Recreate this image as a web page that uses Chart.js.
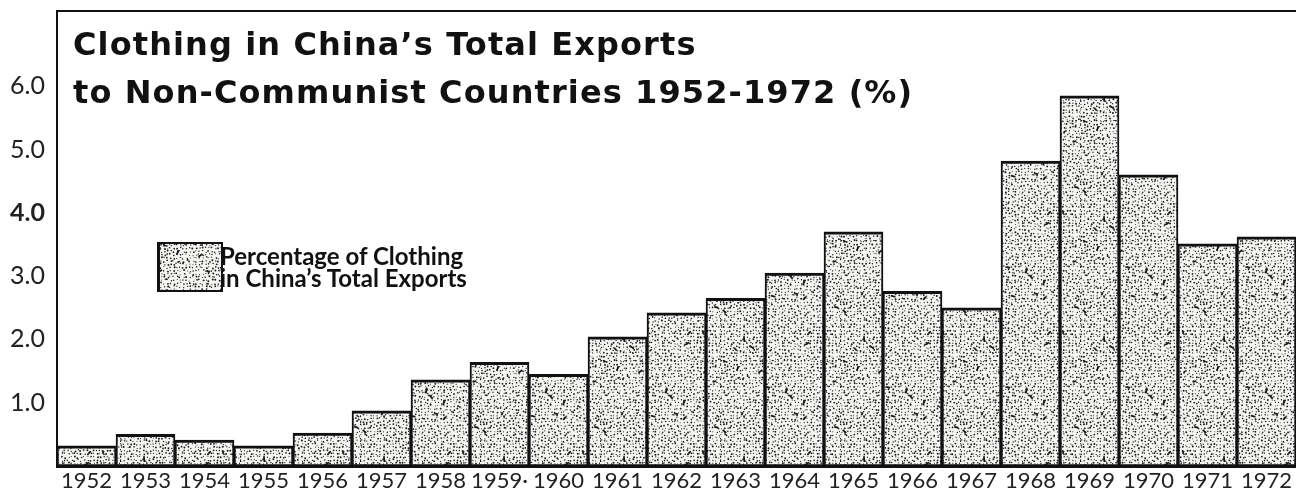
<!DOCTYPE html>
<html>
<head>
<meta charset="utf-8">
<script src="https://cdn.jsdelivr.net/npm/chart.js@4.4.1/dist/chart.umd.min.js"></script>
<style>
  html, body { margin: 0; padding: 0; background: #fff; }
  #wrap { position: relative; width: 1296px; height: 493px; overflow: hidden; }
  #c { position: absolute; left: 0; top: 0; }
  #title {
    position: absolute; left: 73px; top: 20px;
    font-family: "DejaVu Sans", Lato, sans-serif; font-weight: 700;
    font-size: 32px; line-height: 48px; color: #111; letter-spacing: 1.1px;
    white-space: nowrap;
  }
  #sw { position: absolute; left: 157px; top: 242px; border: 2px solid #111; border-left-width: 3px; box-sizing: border-box; display: block; }
  #legtxt {
    position: absolute; left: 220px; top: 245px;
    font-family: Lato, "Open Sans", sans-serif; font-weight: 700;
    font-size: 24px; line-height: 22px; color: #111; white-space: pre;
  }
</style>
</head>
<body>
<div id="wrap">
  <canvas id="c" width="1296" height="493"></canvas>
  <div id="title"></div>
  <canvas id="sw" width="61" height="46"></canvas>
  <div id="legtxt"></div>
</div>
<script>
// ---- data ----
const years = ["1952","1953","1954","1955","1956","1957","1958","1959","1960","1961","1962",
               "1963","1964","1965","1966","1967","1968","1969","1970","1971","1972"];
const xTickLabels = ["1952","1953","1954","1955","1956","1957","1958","1959\u00b7","1960","1961","1962",
                     "1963","1964","1965","1966","1967","1968","1969","1970","1971","1972"];
const clothingShare = [0.32, 0.50, 0.41, 0.32, 0.52, 0.87, 1.36, 1.64, 1.45, 2.04, 2.42,
                       2.65, 3.05, 3.70, 2.76, 2.50, 4.82, 5.85, 4.60, 3.51, 3.62];
const yTickValues = [1, 2, 3, 4, 5, 6];
const titleLines = ["Clothing in China\u2019s Total Exports", "to Non-Communist Countries 1952-1972 (%)"];
const seriesLabelLines = ["Percentage of Clothing", "in China\u2019s Total Exports"];

// ---- stipple texture (deterministic) ----
function makeStipple() {
  const s = 120;
  const cv = document.createElement('canvas');
  cv.width = s; cv.height = s;
  const g = cv.getContext('2d');
  g.fillStyle = '#f5f5f3'; g.fillRect(0, 0, s, s);
  let seed = 12345;
  const rnd = () => { seed = (seed * 1103515245 + 12345) & 0x7fffffff; return seed / 0x7fffffff; };
  g.fillStyle = '#1a1a1a';
  const step = 3.2;
  for (let y = 0; y < s; y += step) {
    for (let x = 0; x < s; x += step) {
      const px = x + rnd() * 2.2, py = y + rnd() * 2.2;
      const r = 0.5 + rnd() * 0.5;
      g.beginPath(); g.arc(px % s, py % s, r, 0, Math.PI * 2); g.fill();
    }
  }
  for (let i = 0; i < 20; i++) {
    const px = rnd() * s, py = rnd() * s;
    g.save(); g.translate(px, py); g.rotate(rnd() * Math.PI);
    g.fillRect(-2, -0.9, 3 + rnd() * 3, 1.8); g.restore();
  }
  return cv;
}
const stippleCanvas = makeStipple();
const ctx = document.getElementById('c').getContext('2d');
const stipple = ctx.createPattern(stippleCanvas, 'repeat');

document.getElementById('title').innerHTML = titleLines.join('<br>');
document.getElementById('legtxt').textContent = seriesLabelLines.join('\n');
const sw = document.getElementById('sw').getContext('2d');
sw.fillStyle = sw.createPattern(stippleCanvas, 'repeat');
sw.fillRect(0, 0, 61, 46);

const FONT = 'Lato, "Open Sans", sans-serif';

new Chart(ctx, {
  type: 'bar',
  data: {
    labels: years,
    datasets: [{
      label: seriesLabelLines.join(' '),
      data: clothingShare,
      backgroundColor: stipple,
      borderColor: '#111',
      borderWidth: { top: 3, left: 2, right: 2, bottom: 2 },
      borderSkipped: false,
      categoryPercentage: 1.0,
      barPercentage: 1.0
    }]
  },
  options: {
    responsive: false,
    animation: false,
    layout: { padding: { top: 11, left: 0, right: 0, bottom: 0 } },
    plugins: { legend: { display: false }, tooltip: { enabled: false }, title: { display: false } },
    scales: {
      x: {
        grid: { display: false, drawTicks: false },
        border: { display: true, color: '#111', width: 3 },
        ticks: {
          color: '#222', font: { family: FONT, size: 22 }, padding: 2, maxRotation: 0, autoSkip: false,
          callback: (v, i) => xTickLabels[i]
        },
        afterFit: (s) => { s.height = 27; s.paddingLeft = 0; s.paddingRight = 0; }
      },
      xTop: {
        position: 'top',
        grid: { display: false, drawTicks: false },
        border: { display: true, color: '#111', width: 2 },
        ticks: { display: false },
        afterFit: (s) => { s.height = 0; s.paddingLeft = 0; s.paddingRight = 0; }
      },
      y: {
        min: 0, max: 7.19,
        grid: { display: false, drawTicks: false },
        border: { display: true, color: '#111', width: 2 },
        afterBuildTicks: (s) => { s.ticks = yTickValues.map(v => ({ value: v })); },
        ticks: {
          color: '#222',
          padding: 12,
          font: (c) => ({ family: FONT, size: 25, weight: (c.tick && c.tick.value === 4) ? '700' : '400' }),
          callback: (v) => Number(v).toFixed(1)
        },
        afterFit: (s) => { s.width = 57; s.paddingTop = 0; s.paddingBottom = 0; }
      }
    }
  }
});
</script>
</body>
</html>
